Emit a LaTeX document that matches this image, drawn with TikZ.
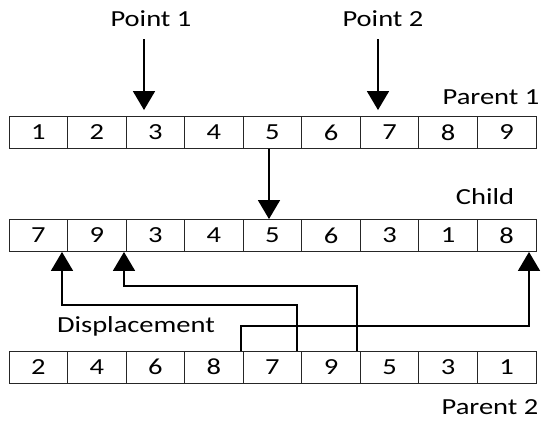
\documentclass[tikz,border=0pt]{standalone}
\usepackage{fontspec}
\setmainfont{Carlito}
\usepackage{graphicx}
\usetikzlibrary{arrows.meta}
\newcommand{\widetext}[1]{\scalebox{1.24}[1]{#1}}
\begin{document}
\begin{tikzpicture}[x=1pt,y=-1pt,
  cell/.style={draw=black!85, line width=0.9pt, minimum width=58.55pt, minimum height=32pt, inner sep=0pt, font=\fontsize{23}{26}\selectfont},
  lab/.style={inner sep=0pt, anchor=base, font=\fontsize{23}{26}\selectfont},
  conn/.style={line width=1.7pt, -{Triangle[width=22pt,length=19pt]}}]
\useasboundingbox (0,0) rectangle (550,421);
% rows
\foreach \v [count=\i] in {1,2,3,4,5,6,7,8,9}
  \node[cell] (pa\i) at ({9+(\i-0.5)*58.55},132.5) {\widetext{\v}};
\foreach \v [count=\i] in {7,9,3,4,5,6,3,1,8}
  \node[cell] (ch\i) at ({9+(\i-0.5)*58.55},235.5) {\widetext{\v}};
\foreach \v [count=\i] in {2,4,6,8,7,9,5,3,1}
  \node[cell] (pb\i) at ({9+(\i-0.5)*58.55},367) {\widetext{\v}};
% labels
\node[lab] (pt1) at (151,26) {\widetext{Point 1}};
\node[lab] (pt2) at (383,26) {\widetext{Point 2}};
\node[lab] (par1) at (491,104) {\widetext{Parent 1}};
\node[lab] (chl) at (485,204) {\widetext{Child}};
\node[lab] (disp) at (136,332) {\widetext{Displacement}};
\node[lab] (par2) at (490,414) {\widetext{Parent 2}};
% crossover points
\coordinate (s1) at (144,39);
\coordinate (s2) at (378,39);
\draw[conn, shorten >=6pt] (s1) -- (s1 |- pa3.north);
\draw[conn, shorten >=6pt] (s2) -- (s2 |- pa7.north);
% copy middle gene
\draw[conn] (pa5.south -| 269,0) -- (ch5.north -| 269,0);
% displacement
\draw[conn] (pb5.north -| 297,0) -- (297,305) -| (ch1.south -| 62,0);
\draw[conn] (pb6.north -| 357,0) -- (357,286) -| (ch2.south -| 124,0);
\draw[conn] (pb4.north -| 241,0) -- (241,326) -| (ch9.south -| 529,0);
\end{tikzpicture}
\end{document}
